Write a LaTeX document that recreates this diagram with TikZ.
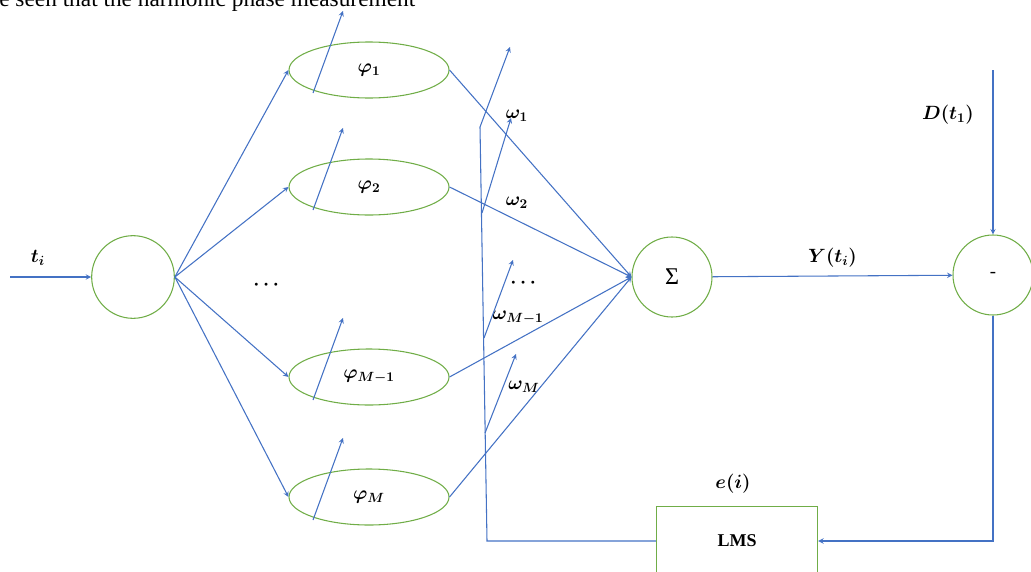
\documentclass[tikz,border=0pt]{standalone}
\usepackage{amsmath, amssymb}
\usepackage{fontspec}
\newfontfamily\timesfont{Liberation Serif}
\usepackage{xcolor}
\usepackage{tikz}
\usetikzlibrary{shapes,arrows}

\definecolor{lineblue}{RGB}{68,114,196}
\definecolor{edgegreen}{RGB}{112,173,71}

\begin{document}
\begin{tikzpicture}[
    x=0.75pt, y=-0.75pt,
    every node/.style={font=\Large},
    unit/.style={circle, draw=edgegreen, line width=0.8pt, minimum size=60pt, inner sep=0pt},
    basis/.style={ellipse, draw=edgegreen, line width=0.8pt, minimum width=120pt, minimum height=42pt, inner sep=0pt},
    box/.style={rectangle, draw=edgegreen, line width=0.8pt, minimum width=121pt, minimum height=52pt},
    line/.style={draw=lineblue, line width=0.8pt},
    arrow/.style={line, ->, >=stealth}
]
\useasboundingbox (0,0) rectangle (1031,571);
\clip (0,0) rectangle (1031,571);

% text of the page above the figure
\node[anchor=base west, inner sep=0pt, font=\timesfont\fontsize{17.5pt}{20pt}\selectfont] (cap) at (-1,7) {e seen that the harmonic phase measurement};

% nodes
\node[unit, minimum size=62pt] (in) at (133,277) {};
\node[basis] (phi1)  at (369,70)  {$\boldsymbol{\varphi_1}$};
\node[basis] (phi2)  at (369,187) {$\boldsymbol{\varphi_2}$};
\node[basis] (phiM1) at (369,377) {$\boldsymbol{\varphi_{M-1}}$};
\node[basis] (phiM)  at (369,497) {$\boldsymbol{\varphi_M}$};
\node[unit, font=\timesfont\fontsize{18pt}{20pt}\selectfont] (sum) at (672,277) {Σ};
\node[unit, font=\timesfont\fontsize{14pt}{16pt}\selectfont] (minus) at (993,275) {-};
\node[box, font=\timesfont\bfseries\fontsize{13.5pt}{15pt}\selectfont] (lms) at (737,541) {LMS};

\node (dots1) at (268,285) {$\boldsymbol{\cdots}$};
\node (dots2) at (525,283) {$\boldsymbol{\cdots}$};

% free ends
\coordinate (src)  at (10,277);
\coordinate (dsrc) at (993,70);
\coordinate (fbl)  at (487,541);
\coordinate (fbt)  at (480,127);
\coordinate (w1)   at (510,47);
\coordinate (w2a)  at (482,213);
\coordinate (w2)   at (511,118);
\coordinate (w3a)  at (484,338);
\coordinate (w3)   at (513,260);
\coordinate (w4a)  at (485,433);
\coordinate (w4)   at (516,354);

% input and fan out
\draw[arrow] (src) -- (in);
\node at (38,258) {$\boldsymbol{t_i}$};
\foreach \e in {phi1,phi2,phiM1,phiM}
{
    \draw[arrow] (in.east) -- (\e.west);
    \draw[arrow] (\e.east) -- (sum.west);
    \draw[arrow] ([shift={(-56,23)}]\e.center) -- ++(30,-82);
}

% weights
\node at (517,116) {$\boldsymbol{\omega_1}$};
\node at (517,203) {$\boldsymbol{\omega_2}$};
\node at (518,318) {$\boldsymbol{\omega_{M-1}}$};
\node at (524,387) {$\boldsymbol{\omega_M}$};

% output and error
\draw[arrow] (sum) -- node[above=3pt] {$\boldsymbol{Y(t_i)}$} (minus);
\draw[arrow] (dsrc) -- (minus.north);
\node at (948,115) {$\boldsymbol{D(t_1)}$};
\draw[arrow] (minus.south) |- (lms.east);
\node at (733,484) {$\boldsymbol{e(i)}$};

% weight update from LMS
\draw[arrow] (lms.west) -- (fbl) -- (fbt) -- (w1);
\draw[arrow] (w2a) -- (w2);
\draw[arrow] (w3a) -- (w3);
\draw[arrow] (w4a) -- (w4);
\end{tikzpicture}
\end{document}
